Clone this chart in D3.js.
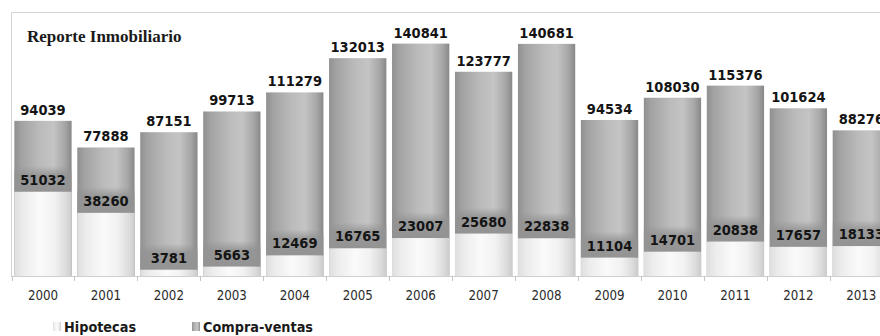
<!DOCTYPE html>
<html>
<head>
<meta charset="utf-8">
<script src="https://cdn.jsdelivr.net/npm/d3@7/dist/d3.min.js"></script>
<style>
  html, body { margin: 0; padding: 0; background: #fff; overflow: hidden; }
  svg { display: block; }
  .cond { font-family: "DejaVu Sans Condensed", "DejaVu Sans", sans-serif; font-stretch: condensed; }
</style>
</head>
<body>
<svg id="chart" width="880" height="336"></svg>
<script>
// Registros anuales
const years = ["2000", "2001", "2002", "2003", "2004", "2005", "2006",
               "2007", "2008", "2009", "2010", "2011", "2012", "2013"];
const compraventas = [94039, 77888, 87151, 99713, 111279, 132013, 140841,
                      123777, 140681, 94534, 108030, 115376, 101624, 88276];
const hipotecas = [51032, 38260, 3781, 5663, 12469, 16765, 23007,
                   25680, 22838, 11104, 14701, 20838, 17657, 18133];
const seriesNames = ["Hipotecas", "Compra-ventas"];
const title = "Reporte Inmobiliario";

const rows = years.map((y, i) => ({ year: y, cv: compraventas[i], hip: hipotecas[i] }));

const svg = d3.select("#chart");
const W = 880, H = 336;
const plotLeft = 11, plotTop = 12, baseY = 276;

svg.append("rect").attr("width", W).attr("height", H).attr("fill", "#fff");

// Gradients
const defs = svg.append("defs");
const gDark = defs.append("linearGradient").attr("id", "gDark")
  .attr("x1", "0").attr("x2", "1").attr("y1", "0").attr("y2", "0");
[[0, "#909090"], [0.12, "#a2a2a2"], [0.45, "#bbbbbb"], [0.68, "#c4c4c4"], [0.88, "#a7a7a7"], [1, "#888888"]]
  .forEach(([o, c]) => gDark.append("stop").attr("offset", o).attr("stop-color", c));

const gLight = defs.append("linearGradient").attr("id", "gLight")
  .attr("x1", "0").attr("x2", "1").attr("y1", "0").attr("y2", "0");
[[0, "#dedede"], [0.15, "#ececec"], [0.45, "#fafafa"], [0.7, "#f2f2f2"], [0.9, "#dcdcdc"], [1, "#cbcbcb"]]
  .forEach(([o, c]) => gLight.append("stop").attr("offset", o).attr("stop-color", c));

const gBand = defs.append("linearGradient").attr("id", "gBand")
  .attr("x1", "0").attr("x2", "0").attr("y1", "0").attr("y2", "1");
[[0, 0], [0.35, 0.85], [1, 1]]
  .forEach(([o, a]) => gBand.append("stop").attr("offset", o)
    .attr("stop-color", "#939393").attr("stop-opacity", a));

// Scales
const x = d3.scaleBand()
  .domain(years)
  .range([11.5, 11.5 + years.length * 62.95])
  .paddingInner(0.09)
  .paddingOuter(0.045);
const y = d3.scaleLinear().domain([0, 160000]).range([baseY, plotTop]);
const step = x.step();

// Plot frame (top and left edges)
svg.append("path")
  .attr("d", `M${plotLeft + 0.5},${baseY} V${plotTop + 0.5} H${W}`)
  .attr("fill", "none").attr("stroke", "#d4d4d4").attr("stroke-width", 1);

// Title
svg.append("text")
  .attr("x", 27).attr("y", 42)
  .attr("font-family", "'Liberation Serif', 'DejaVu Serif', serif")
  .attr("font-weight", "bold").attr("font-size", 17)
  .attr("fill", "#1a1a1a")
  .text(title);

// Bars: compra-ventas behind, hipotecas in front (overlapped, same baseline)
const g = svg.append("g");
g.selectAll("rect.cv").data(rows).join("rect")
  .attr("class", "cv")
  .attr("x", d => x(d.year)).attr("width", x.bandwidth())
  .attr("y", d => y(d.cv)).attr("height", d => baseY - y(d.cv))
  .attr("fill", "url(#gDark)");

g.selectAll("rect.band").data(rows).join("rect")
  .attr("class", "band")
  .attr("x", d => x(d.year)).attr("width", x.bandwidth())
  .attr("y", d => y(d.hip) - 26).attr("height", 26)
  .attr("fill", "url(#gBand)");

g.selectAll("rect.hip").data(rows).join("rect")
  .attr("class", "hip")
  .attr("x", d => x(d.year)).attr("width", x.bandwidth())
  .attr("y", d => y(d.hip)).attr("height", d => baseY - y(d.hip))
  .attr("fill", "url(#gLight)");

// Value labels
const labelFont = (sel) => sel
  .attr("class", "cond")
  .attr("font-weight", "bold").attr("font-size", 14.5)
  .attr("fill", "#141414").attr("text-anchor", "middle");

g.selectAll("text.cvlab").data(rows).join("text")
  .call(labelFont).classed("cvlab", true)
  .attr("x", d => x(d.year) + x.bandwidth() / 2)
  .attr("y", d => y(d.cv) - 6)
  .text(d => d.cv);

g.selectAll("text.hiplab").data(rows).join("text")
  .call(labelFont).classed("hiplab", true)
  .attr("x", d => x(d.year) + x.bandwidth() / 2)
  .attr("y", d => y(d.hip) - 7)
  .text(d => d.hip);

// Category axis
const axis = svg.append("g");
axis.append("line")
  .attr("x1", plotLeft).attr("x2", W)
  .attr("y1", baseY + 0.5).attr("y2", baseY + 0.5)
  .attr("stroke", "#cfcfcf");
const tickXs = years.map(yr => x(yr) - step * x.paddingInner() / 2);
tickXs.push(x(years[years.length - 1]) + x.bandwidth() + step * x.paddingInner() / 2);
axis.selectAll("line.tick").data(tickXs).join("line")
  .attr("class", "tick")
  .attr("x1", d => Math.round(d) + 0.5).attr("x2", d => Math.round(d) + 0.5)
  .attr("y1", baseY).attr("y2", baseY + 5)
  .attr("stroke", "#c4c4c4");
axis.selectAll("text").data(years).join("text")
  .attr("class", "cond")
  .attr("x", d => x(d) + x.bandwidth() / 2)
  .attr("y", 300)
  .attr("text-anchor", "middle")
  .attr("font-size", 13.2)
  .attr("fill", "#2a2a2a")
  .text(d => d);

// Legend
const legend = svg.append("g");
const legendItems = [
  { name: seriesNames[0], x: 53, fill: "url(#gLight)" },
  { name: seriesNames[1], x: 192, fill: "url(#gDark)" }
];
legendItems.forEach(it => {
  legend.append("rect")
    .attr("x", it.x).attr("y", 322).attr("width", 8).attr("height", 9)
    .attr("fill", it.fill);
  legend.append("text")
    .attr("class", "cond")
    .attr("x", it.x + 11).attr("y", 331.5)
    .attr("font-weight", "bold").attr("font-size", 14.3)
    .attr("fill", "#1a1a1a")
    .text(it.name);
});
</script>
</body>
</html>
